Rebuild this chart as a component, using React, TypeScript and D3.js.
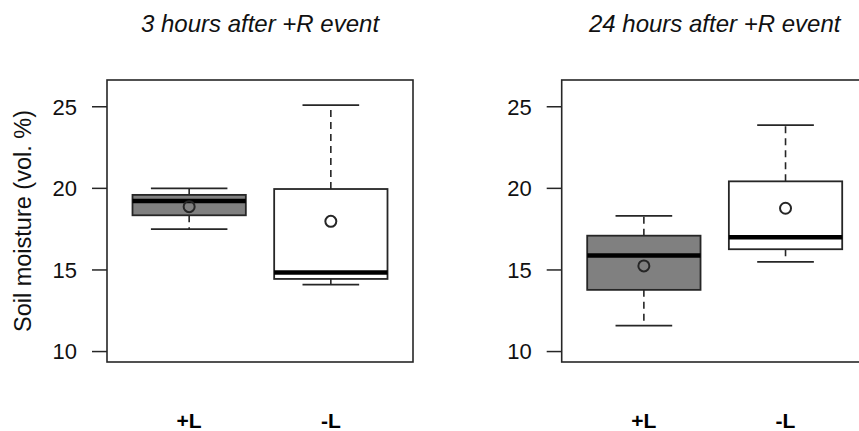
import React from "react";
import * as d3 from "d3";

// groups and panel titles
const groups = ["+L", "-L"];
const titles = ["3 hours after +R event", "24 hours after +R event"];

// 3 hours after event
const h3Low = [17.5, 14.1];
const h3Q1 = [18.35, 14.45];
const h3Median = [19.23, 14.84];
const h3Q3 = [19.6, 19.96];
const h3High = [20.0, 25.1];
const h3Mean = [18.88, 17.98];

// 24 hours after event
const h24Low = [11.59, 15.49];
const h24Q1 = [13.78, 16.27];
const h24Median = [15.88, 17.0];
const h24Q3 = [17.1, 20.43];
const h24High = [18.31, 23.88];
const h24Mean = [15.25, 18.78];

const yTicks = [10, 15, 20, 25];
const yLimits = [10, 26];

const W = 859;
const H = 431;
const plotTop = 80;
const plotBottom = 362;
const plotWidth = 306;
const fills = ["#808080", "#ffffff"];
const ink = "#262626";
const font = "'Liberation Sans', Arial, Helvetica, sans-serif";

const panels = [
  { title: titles[0], left: 107, low: h3Low, q1: h3Q1, med: h3Median, q3: h3Q3, high: h3High, mean: h3Mean, staple: [0.54, 0.4], ylab: true },
  { title: titles[1], left: 561.7, low: h24Low, q1: h24Q1, med: h24Median, q3: h24Q3, high: h24High, mean: h24Mean, staple: [0.4, 0.4], ylab: false },
];

// R-style 4% axis extension
const pad = (yLimits[1] - yLimits[0]) * 0.04;
const y = d3
  .scaleLinear()
  .domain([yLimits[0] - pad, yLimits[1] + pad])
  .range([plotBottom, plotTop]);

const Panel: React.FC<{ p: (typeof panels)[number] }> = ({ p }) => {
  const x = d3
    .scaleLinear()
    .domain([0.42, groups.length + 0.58])
    .range([p.left, p.left + plotWidth]);
  const cx = p.left + plotWidth / 2;

  return (
    <g>
      <text
        x={cx}
        y={32}
        textAnchor="middle"
        fontStyle="italic"
        fontSize={24}
        fill="#111"
        fontFamily={font}
      >
        {p.title}
      </text>

      {/* y axis */}
      {yTicks.map(t => (
        <g key={t}>
          <line x1={p.left - 15} x2={p.left} y1={y(t)} y2={y(t)} stroke={ink} strokeWidth={1.5} />
          <text
            x={p.left - 30}
            y={y(t)}
            dy="0.36em"
            textAnchor="end"
            fontSize={22}
            fill="#111"
            fontFamily={font}
          >
            {t}
          </text>
        </g>
      ))}

      {p.ylab && (
        <text
          transform={`translate(31, ${(plotTop + plotBottom) / 2}) rotate(-90)`}
          textAnchor="middle"
          fontSize={23.5}
          fill="#111"
          fontFamily={font}
        >
          Soil moisture (vol. %)
        </text>
      )}

      {/* boxes */}
      {groups.map((g, i) => {
        const c = x(i + 1);
        const bx0 = x(i + 1 - 0.4);
        const bx1 = x(i + 1 + 0.4);
        const s = p.staple[i] / 2;
        return (
          <g key={g}>
            <line x1={c} x2={c} y1={y(p.q3[i])} y2={y(p.high[i])} stroke={ink} strokeWidth={1.6} strokeDasharray="7,5" />
            <line x1={c} x2={c} y1={y(p.q1[i])} y2={y(p.low[i])} stroke={ink} strokeWidth={1.6} strokeDasharray="7,5" />
            <line x1={x(i + 1 - s)} x2={x(i + 1 + s)} y1={y(p.high[i])} y2={y(p.high[i])} stroke={ink} strokeWidth={1.8} />
            <line x1={x(i + 1 - s)} x2={x(i + 1 + s)} y1={y(p.low[i])} y2={y(p.low[i])} stroke={ink} strokeWidth={1.8} />
            <rect
              x={bx0}
              y={y(p.q3[i])}
              width={bx1 - bx0}
              height={y(p.q1[i]) - y(p.q3[i])}
              fill={fills[i]}
              stroke={ink}
              strokeWidth={1.8}
            />
            <line x1={bx0} x2={bx1} y1={y(p.med[i])} y2={y(p.med[i])} stroke="#000" strokeWidth={4.5} />
            <circle cx={c} cy={y(p.mean[i])} r={5.5} fill="none" stroke={ink} strokeWidth={2} />
            <text
              x={c}
              y={428}
              textAnchor="middle"
              fontWeight="bold"
              fontSize={21}
              fill="#000"
              fontFamily={font}
            >
              {g}
            </text>
          </g>
        );
      })}

      {/* frame */}
      <rect
        x={p.left}
        y={plotTop}
        width={plotWidth}
        height={plotBottom - plotTop}
        fill="none"
        stroke={ink}
        strokeWidth={1.6}
      />
    </g>
  );
};

const App: React.FC = () => (
  <svg
    width={W}
    height={H}
    viewBox={`0 0 ${W} ${H}`}
    style={{ position: "absolute", left: 0, top: 0, background: "#fff" }}
  >
    {panels.map(p => (
      <Panel key={p.title} p={p} />
    ))}
  </svg>
);

export default App;
